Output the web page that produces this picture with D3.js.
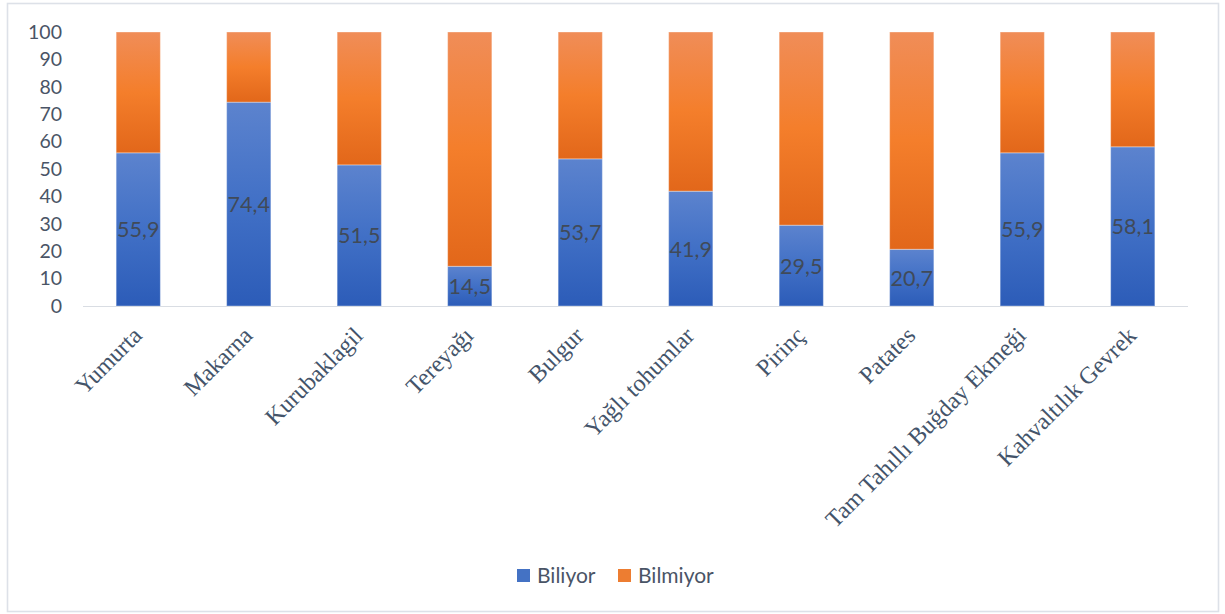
<!DOCTYPE html>
<html>
<head>
<meta charset="utf-8">
<script src="https://cdn.jsdelivr.net/npm/d3@7"></script>
<style>
  html, body { margin: 0; padding: 0; background: #ffffff; }
  svg { display: block; }
</style>
</head>
<body>
<svg id="chart" width="1225" height="614"></svg>
<script>
// Food categories and the share (%) of respondents who know / don't know
const categories = ["Yumurta", "Makarna", "Kurubaklagil", "Tereyağı", "Bulgur",
  "Yağlı tohumlar", "Pirinç", "Patates", "Tam Tahıllı Buğday Ekmeği", "Kahvaltılık Gevrek"];
const biliyor = [55.9, 74.4, 51.5, 14.5, 53.7, 41.9, 29.5, 20.7, 55.9, 58.1];
const bilmiyor = biliyor.map(v => +(100 - v).toFixed(1));
const seriesNames = ["Biliyor", "Bilmiyor"];
const yTicks = [0, 10, 20, 30, 40, 50, 60, 70, 80, 90, 100];

const svg = d3.select("#chart");

// outer frame
svg.append("rect")
  .attr("x", 7.5).attr("y", 3.5)
  .attr("width", 1211).attr("height", 608)
  .attr("fill", "#ffffff")
  .attr("stroke", "#dde1e8").attr("stroke-width", 1.6);

// vertical gradients for the two series
const defs = svg.append("defs");
function grad(id, stops) {
  const g = defs.append("linearGradient").attr("id", id)
    .attr("x1", 0).attr("y1", 0).attr("x2", 0).attr("y2", 1);
  stops.forEach(([o, c]) => g.append("stop").attr("offset", o).attr("stop-color", c));
}
grad("gBlue", [[0, "#5c83ce"], [0.5, "#4170c6"], [1, "#2c5cb8"]]);
grad("gOrange", [[0, "#f08d58"], [0.5, "#f47e2b"], [1, "#e2671a"]]);
const fills = ["url(#gBlue)", "url(#gOrange)"];
const legendColors = ["#4472c4", "#ed7d31"];

const x = d3.scaleBand().domain(categories).range([83, 1188])
  .paddingInner(0.6).paddingOuter(0.3);
const y = d3.scaleLinear().domain([0, 100]).range([306, 32]);

// stacked data
const rows = categories.map((c, i) => ({ cat: c, Biliyor: biliyor[i], Bilmiyor: bilmiyor[i] }));
const stack = d3.stack().keys(seriesNames)(rows);

const layers = svg.append("g").selectAll("g").data(stack).join("g")
  .attr("fill", (d, i) => fills[i]);
layers.selectAll("rect").data(d => d).join("rect")
  .attr("x", d => x(d.data.cat))
  .attr("y", d => y(d[1]))
  .attr("width", x.bandwidth())
  .attr("height", d => y(d[0]) - y(d[1]))
  .attr("stroke", "rgba(255,255,255,0.35)")
  .attr("stroke-width", 1);

// baseline
svg.append("line")
  .attr("x1", 83).attr("x2", 1188)
  .attr("y1", y(0) + 0.5).attr("y2", y(0) + 0.5)
  .attr("stroke", "#d9dde3").attr("stroke-width", 1);

// y axis labels
const yAxis = d3.axisLeft(y).tickValues(yTicks).tickSize(0).tickPadding(0);
const gy = svg.append("g").attr("transform", "translate(62,0)").call(yAxis);
gy.select(".domain").remove();
gy.selectAll("text")
  .attr("font-family", "Lato, 'Open Sans', sans-serif")
  .attr("font-size", 19.5)
  .attr("fill", "#4a5466");

// value labels inside the "Biliyor" segments
svg.append("g").selectAll("text").data(stack[0]).join("text")
  .attr("x", d => x(d.data.cat) + x.bandwidth() / 2)
  .attr("y", d => y((d[0] + d[1]) / 2))
  .attr("text-anchor", "middle")
  .attr("dominant-baseline", "central")
  .attr("font-family", "Lato, 'Open Sans', sans-serif")
  .attr("font-size", 21.5)
  .attr("fill", "#404a58")
  .text(d => String(d.data.Biliyor).replace(".", ","));

// rotated category labels
const xAxis = d3.axisBottom(x).tickSize(0).tickPadding(0);
const gx = svg.append("g").attr("transform", "translate(0,306)").call(xAxis);
gx.select(".domain").remove();
gx.selectAll(".tick text")
  .attr("font-family", "'Liberation Serif', 'Times New Roman', serif")
  .attr("font-size", 24)
  .attr("fill", "#44546a")
  .attr("text-anchor", "end")
  .attr("dy", "0")
  .attr("y", 0)
  .attr("transform", "translate(5,31) rotate(-45)");

// legend
const legend = svg.append("g").attr("font-family", "Lato, 'Open Sans', sans-serif")
  .attr("font-size", 21).attr("fill", "#4a5466");
const legendX = [517, 618];
seriesNames.forEach((n, i) => {
  legend.append("rect").attr("x", legendX[i]).attr("y", 569)
    .attr("width", 13).attr("height", 13).attr("fill", legendColors[i]);
  legend.append("text").attr("x", legendX[i] + 20).attr("y", 582.5).text(n);
});
</script>
</body>
</html>
